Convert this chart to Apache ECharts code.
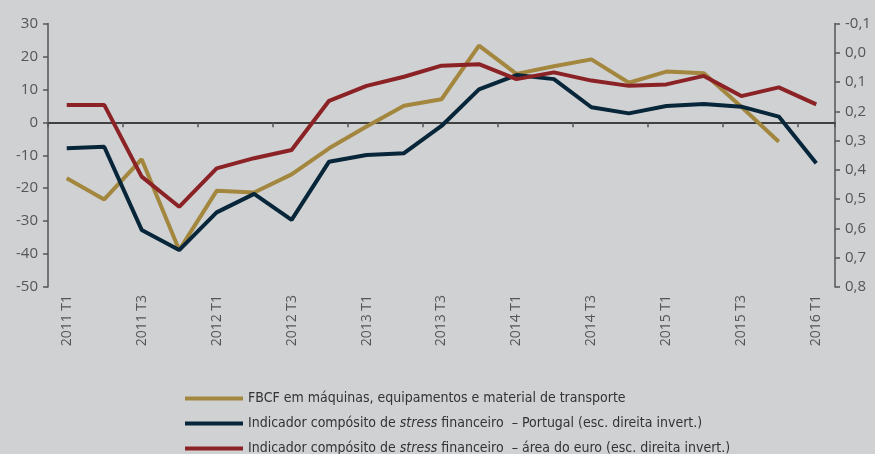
<!DOCTYPE html>
<html>
<head>
<meta charset="utf-8">
<script src="https://cdn.jsdelivr.net/npm/echarts@6/dist/echarts.min.js"></script>
<style>
  html, body { margin: 0; padding: 0; background: #d0d1d3; }
  #chart { width: 875px; height: 454px; }
</style>
</head>
<body>
<div id="chart"></div>
<script>
const quarters = [
  '2011 T1', '2011 T2', '2011 T3', '2011 T4',
  '2012 T1', '2012 T2', '2012 T3', '2012 T4',
  '2013 T1', '2013 T2', '2013 T3', '2013 T4',
  '2014 T1', '2014 T2', '2014 T3', '2014 T4',
  '2015 T1', '2015 T2', '2015 T3', '2015 T4',
  '2016 T1'
]
// FBCF, left axis (%)
const fbcf = [-17.0, -23.4, -11.2, -38.8, -20.8, -21.3, -15.8, -7.9, -1.3, 5.0,
  7.0, 23.3, 14.7, 17.0, 19.1, 12.0, 15.4, 14.9, 4.7, -5.9, null]
// stress indicators, right axis (inverted)
const stressPT = [0.326, 0.321, 0.605, 0.674, 0.545, 0.482, 0.571, 0.372, 0.349, 0.343,
  0.250, 0.125, 0.076, 0.090, 0.186, 0.207, 0.182, 0.175, 0.184, 0.218, 0.377]
const stressEA = [0.178, 0.178, 0.423, 0.526, 0.395, 0.360, 0.332, 0.164, 0.113, 0.082,
  0.044, 0.039, 0.090, 0.067, 0.095, 0.113, 0.108, 0.079, 0.148, 0.118, 0.176]
const seriesNames = [
  'FBCF em máquinas, equipamentos e material de transporte',
  'Indicador compósito de stress financeiro  – Portugal (esc. direita invert.)',
  'Indicador compósito de stress financeiro  – área do euro (esc. direita invert.)'
]

const chart = echarts.init(document.getElementById('chart'))
const labelColor = '#555'
const legendFont = 'DejaVu Sans Condensed, Liberation Sans Narrow, sans-serif'

const option = {
  backgroundColor: '#d0d1d3',
  animation: false,
  color: ['#a3873f', '#07263a', '#8b2225'],
  grid: { left: 48, right: 40, top: 23.5, bottom: 167 },
  legend: {
    orient: 'vertical',
    left: 180,
    top: 385,
    width: 650,
    height: 100,
    itemWidth: 58,
    itemHeight: 4,
    itemGap: 8,
    icon: 'rect',
    textStyle: {
      color: '#333',
      fontSize: 14,
      lineHeight: 17,
      fontFamily: legendFont,
      rich: {
        n: { color: '#333', fontSize: 14, lineHeight: 17, fontFamily: legendFont },
        i: { color: '#333', fontSize: 14, lineHeight: 17, fontStyle: 'italic', fontFamily: legendFont }
      }
    },
    formatter: function (name) {
      if (name.indexOf('stress') < 0) return '{n|' + name + '}'
      const parts = name.split('stress')
      return '{n|' + parts[0] + '}{i|stress}{n|' + parts[1] + '}'
    },
    data: seriesNames
  },
  xAxis: [
    {
      type: 'category',
      data: quarters,
      boundaryGap: true,
      axisLine: { onZero: true, lineStyle: { color: '#111', width: 1.5 } },
      axisTick: { show: true, inside: false, length: 5, lineStyle: { color: '#555', width: 1.5 } },
      axisLabel: { show: false }
    },
    {
      type: 'category',
      data: quarters,
      position: 'bottom',
      boundaryGap: true,
      axisLine: { show: false, onZero: false },
      axisTick: { show: false },
      axisLabel: {
        interval: 1,
        rotate: 90,
        margin: 8,
        color: labelColor,
        fontSize: 14,
        fontFamily: 'Open Sans, sans-serif'
      }
    }
  ],
  yAxis: [
    {
      type: 'value',
      min: -50,
      max: 30,
      interval: 10,
      axisLine: { show: true, lineStyle: { color: '#555', width: 1.5 } },
      axisTick: { show: true, length: 5, lineStyle: { color: '#555', width: 1.5 } },
      splitLine: { show: false },
      axisLabel: { color: labelColor, fontSize: 15, margin: 10, fontFamily: 'Open Sans, sans-serif' }
    },
    {
      type: 'value',
      inverse: true,
      min: -0.1,
      max: 0.8,
      interval: 0.1,
      position: 'right',
      axisLine: { show: true, lineStyle: { color: '#555', width: 1.5 } },
      axisTick: { show: true, length: 5, lineStyle: { color: '#555', width: 1.5 } },
      splitLine: { show: false },
      axisLabel: {
        color: labelColor,
        fontSize: 15,
        margin: 10,
        fontFamily: 'Open Sans, sans-serif',
        formatter: function (v) { return v.toFixed(1).replace('.', ',') }
      }
    }
  ],
  series: [
    {
      name: seriesNames[0],
      type: 'line',
      yAxisIndex: 0,
      data: fbcf,
      symbol: 'none',
      lineStyle: { width: 4 }
    },
    {
      name: seriesNames[1],
      type: 'line',
      yAxisIndex: 1,
      data: stressPT,
      symbol: 'none',
      lineStyle: { width: 4 }
    },
    {
      name: seriesNames[2],
      type: 'line',
      yAxisIndex: 1,
      data: stressEA,
      symbol: 'none',
      lineStyle: { width: 4 }
    }
  ]
}
chart.setOption(option)
</script>
</body>
</html>
